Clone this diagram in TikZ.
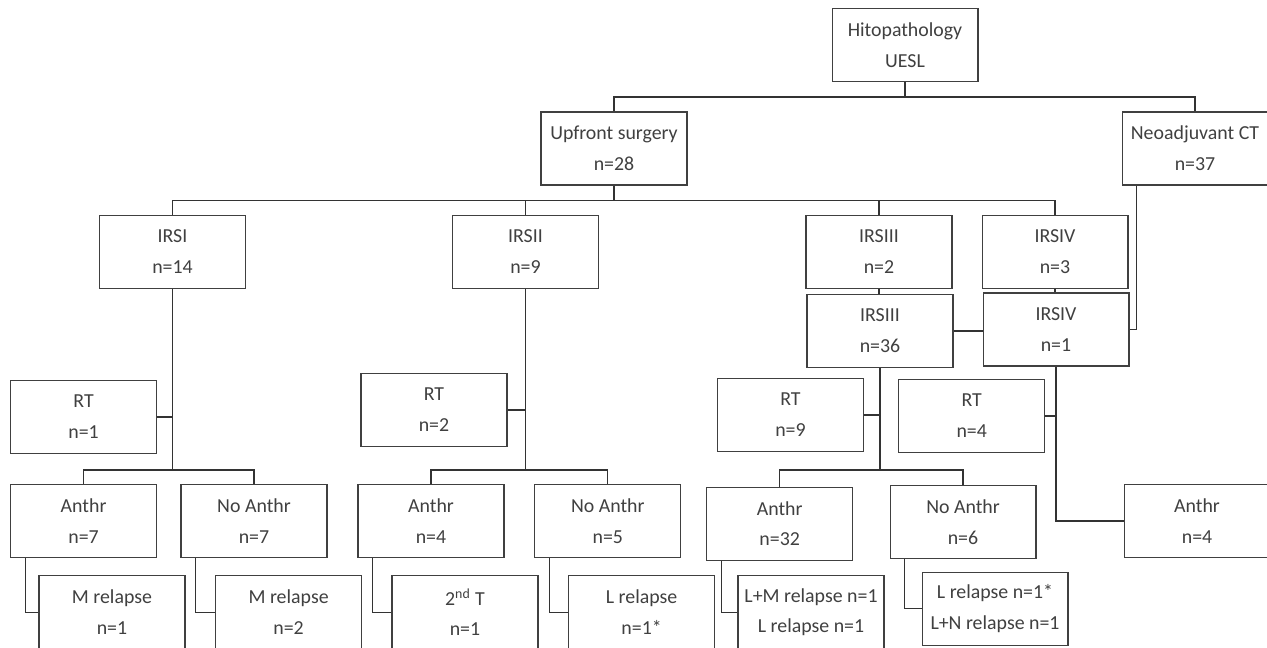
\documentclass[tikz,border=0pt]{standalone}
\usepackage{fontspec}
\setmainfont{Carlito}
\usepackage{tikz}
\usetikzlibrary{positioning,calc}

\begin{document}
\begin{tikzpicture}[
  x=0.02cm, y=-0.02cm,
  box/.style={rectangle, draw=black!75, line width=0.6pt, text=black!75, minimum width=2.92cm, minimum height=1.46cm, inner sep=0pt, font=\fontsize{11.3}{17.6}\selectfont, align=center},
  link/.style={draw=black!80, line width=0.6pt}
]
\useasboundingbox (0,0) rectangle (1267,648);
\clip (0,0) rectangle (1267,648);

% Top
\node[box] (histo) at (905,45) {Hitopathology\\UESL};
\node[box] (upfront) at (614,148.5) {Upfront surgery\\n=28};
\node[box] (neoadj) at (1195,148.5) {Neoadjuvant CT\\n=37};

% IRS groups
\node[box] (irs1) at (172.5,252) {IRSI\\n=14};
\node[box] (irs2) at (525.5,252) {IRSII\\n=9};
\node[box] (irs3a) at (879,252) {IRSIII\\n=2};
\node[box] (irs4a) at (1055,252) {IRSIV\\n=3};
\node[box] (irs3) at (880,331) {IRSIII\\n=36};
\node[box] (irs4) at (1056,329.5) {IRSIV\\n=1};

% Radiotherapy
\node[box] (rt1) at (83.6,417) {RT\\n=1};
\node[box] (rt2) at (434,410) {RT\\n=2};
\node[box] (rt3) at (790.5,415) {RT\\n=9};
\node[box] (rt4) at (971.7,416) {RT\\n=4};

% Anthracyclines
\node[box] (anthr1) at (83.6,521.3) {Anthr\\n=7};
\node[box] (noanthr1) at (254,521.3) {No Anthr\\n=7};
\node[box] (anthr2) at (431,521.3) {Anthr\\n=4};
\node[box] (noanthr2) at (607.8,521.3) {No Anthr\\n=5};
\node[box] (anthr3) at (779.7,523.7) {Anthr\\n=32};
\node[box] (noanthr3) at (963,522) {No Anthr\\n=6};
\node[box] (anthr4) at (1197,521) {Anthr\\n=4};

% Outcomes
\node[box] (rel1) at (112,612.2) {M relapse\\n=1};
\node[box] (rel2) at (288.6,612.2) {M relapse\\n=2};
\node[box] (rel3) at (465,612.2) {2\textsuperscript{nd} T\\n=1};
\node[box] (rel4) at (641.6,612.2) {L relapse\\n=1*};
\node[box] (rel5) at (811,612.2) {L+M relapse n=1\\L relapse n=1};
\node[box] (rel6) at (995,608.7) {L relapse n=1*\\L+N relapse n=1};

% Bar levels
\coordinate (bar0) at (0,97);
\coordinate (bar1) at (0,200.7);
\coordinate (bar2) at (0,470);

% Connectors
\draw[link] (histo.south) -- (histo.south |- bar0);
\draw[link] (upfront.north) |- (bar0 -| neoadj.north) -- (neoadj.north);
\draw[link] (upfront.south) -- (upfront.south |- bar1);
\draw[link] (irs1.north) |- (bar1 -| irs4a.north) -- (irs4a.north);
\draw[link] (irs2.north) -- (irs2.north |- bar1);
\draw[link] (irs3a.north) -- (irs3a.north |- bar1);
\draw[link] (irs3a.south) -- (irs3a.south |- irs3.north);
\draw[link] (irs4a.south) -- (irs4a.south |- irs4.north);
\draw[link] (irs3.east) -- (irs3.east -| irs4.west);
\draw[link] ($(neoadj.south west)+(14.7,0)$) |- (irs4.east);

\draw[link] (irs1.south) -- (irs1.south |- bar2);
\draw[link] (rt1.east) -- (rt1.east -| irs1.south);
\draw[link] (anthr1.north) |- (bar2 -| noanthr1.north) -- (noanthr1.north);
\draw[link] ($(anthr1.south west)+(15,0)$) |- (rel1.west);
\draw[link] ($(noanthr1.south west)+(15,0)$) |- (rel2.west);

\draw[link] (irs2.south) -- (irs2.south |- bar2);
\draw[link] (rt2.east) -- (rt2.east -| irs2.south);
\draw[link] (anthr2.north) |- (bar2 -| noanthr2.north) -- (noanthr2.north);
\draw[link] ($(anthr2.south west)+(15,0)$) |- (rel3.west);
\draw[link] ($(noanthr2.south west)+(15,0)$) |- (rel4.west);

\draw[link] (irs3.south) -- (irs3.south |- bar2);
\draw[link] (rt3.east) -- (rt3.east -| irs3.south);
\draw[link] (anthr3.north) |- (bar2 -| noanthr3.north) -- (noanthr3.north);
\draw[link] ($(anthr3.south west)+(15,0)$) |- (rel5.west);
\draw[link] ($(noanthr3.south west)+(15,0)$) |- (rel6.west);

\draw[link] (irs4.south) |- (anthr4.west);
\draw[link] (rt4.east) -- (rt4.east -| irs4.south);

\end{tikzpicture}
\end{document}
